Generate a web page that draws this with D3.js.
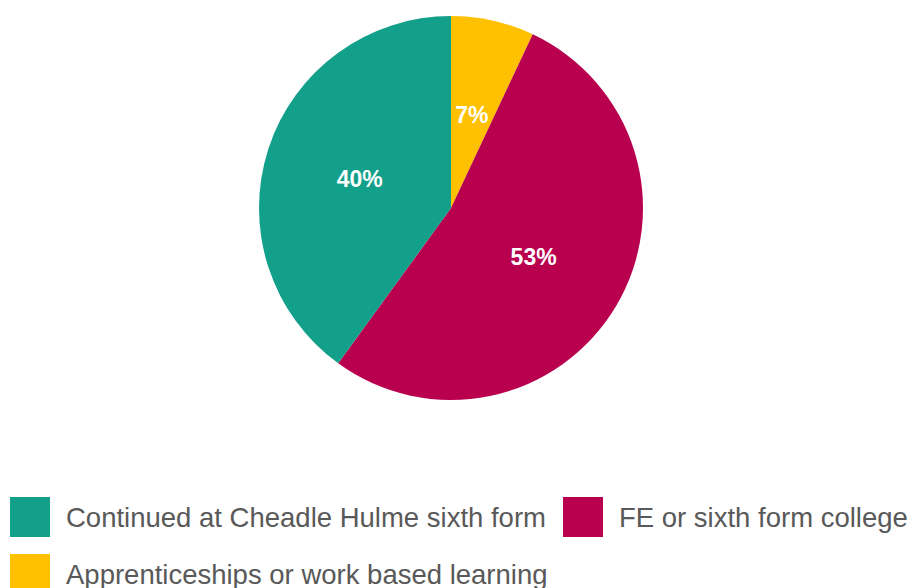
<!DOCTYPE html>
<html>
<head>
<meta charset="utf-8">
<script src="https://cdn.jsdelivr.net/npm/d3@7"></script>
<style>
  html, body { margin: 0; padding: 0; background: #fff; }
  svg { display: block; }
</style>
</head>
<body>
<svg id="chart" width="909" height="588"></svg>
<script>
// Destinations after Year 11, in slice order (clockwise from 12 o'clock)
const categories = ["Apprenticeships or work based learning", "FE or sixth form college", "Continued at Cheadle Hulme sixth form"];
const values = [7, 53, 40];
const colors = ["#FFC000", "#B8004F", "#13A08A"];

// Legend order
const legendOrder = ["Continued at Cheadle Hulme sixth form", "FE or sixth form college", "Apprenticeships or work based learning"];

const svg = d3.select("#chart");
const cx = 451, cy = 208, radius = 192;

const color = d3.scaleOrdinal().domain(categories).range(colors);
const data = categories.map((c, i) => ({ category: c, value: values[i] }));

const pie = d3.pie().value(d => d.value).sort(null);
const arc = d3.arc().innerRadius(0).outerRadius(radius);

const g = svg.append("g").attr("transform", `translate(${cx},${cy})`);
const arcs = pie(data);

g.selectAll("path.slice")
  .data(arcs)
  .join("path")
  .attr("class", "slice")
  .attr("d", arc)
  .attr("fill", d => color(d.data.category));

g.selectAll("text.pct")
  .data(arcs)
  .join("text")
  .attr("class", "pct")
  .attr("transform", d => `translate(${arc.centroid(d)})`)
  .attr("text-anchor", "middle")
  .attr("dy", "0.36em")
  .attr("fill", "#fff")
  .attr("font-family", "Liberation Sans, Arial, sans-serif")
  .attr("font-weight", "bold")
  .attr("font-size", 23)
  .text(d => d.data.value + "%");

// Legend
const legendPos = [
  { x: 10, y: 497 },
  { x: 563, y: 497 },
  { x: 10, y: 554 }
];
const legend = svg.selectAll("g.legend")
  .data(legendOrder)
  .join("g")
  .attr("class", "legend")
  .attr("transform", (d, i) => `translate(${legendPos[i].x},${legendPos[i].y})`);

legend.append("rect")
  .attr("width", 40)
  .attr("height", 40)
  .attr("fill", d => color(d));

legend.append("text")
  .attr("x", 56)
  .attr("y", 30)
  .attr("fill", "#595959")
  .attr("font-family", "Liberation Sans, Arial, sans-serif")
  .attr("font-size", 27.5)
  .text(d => d);
</script>
</body>
</html>
